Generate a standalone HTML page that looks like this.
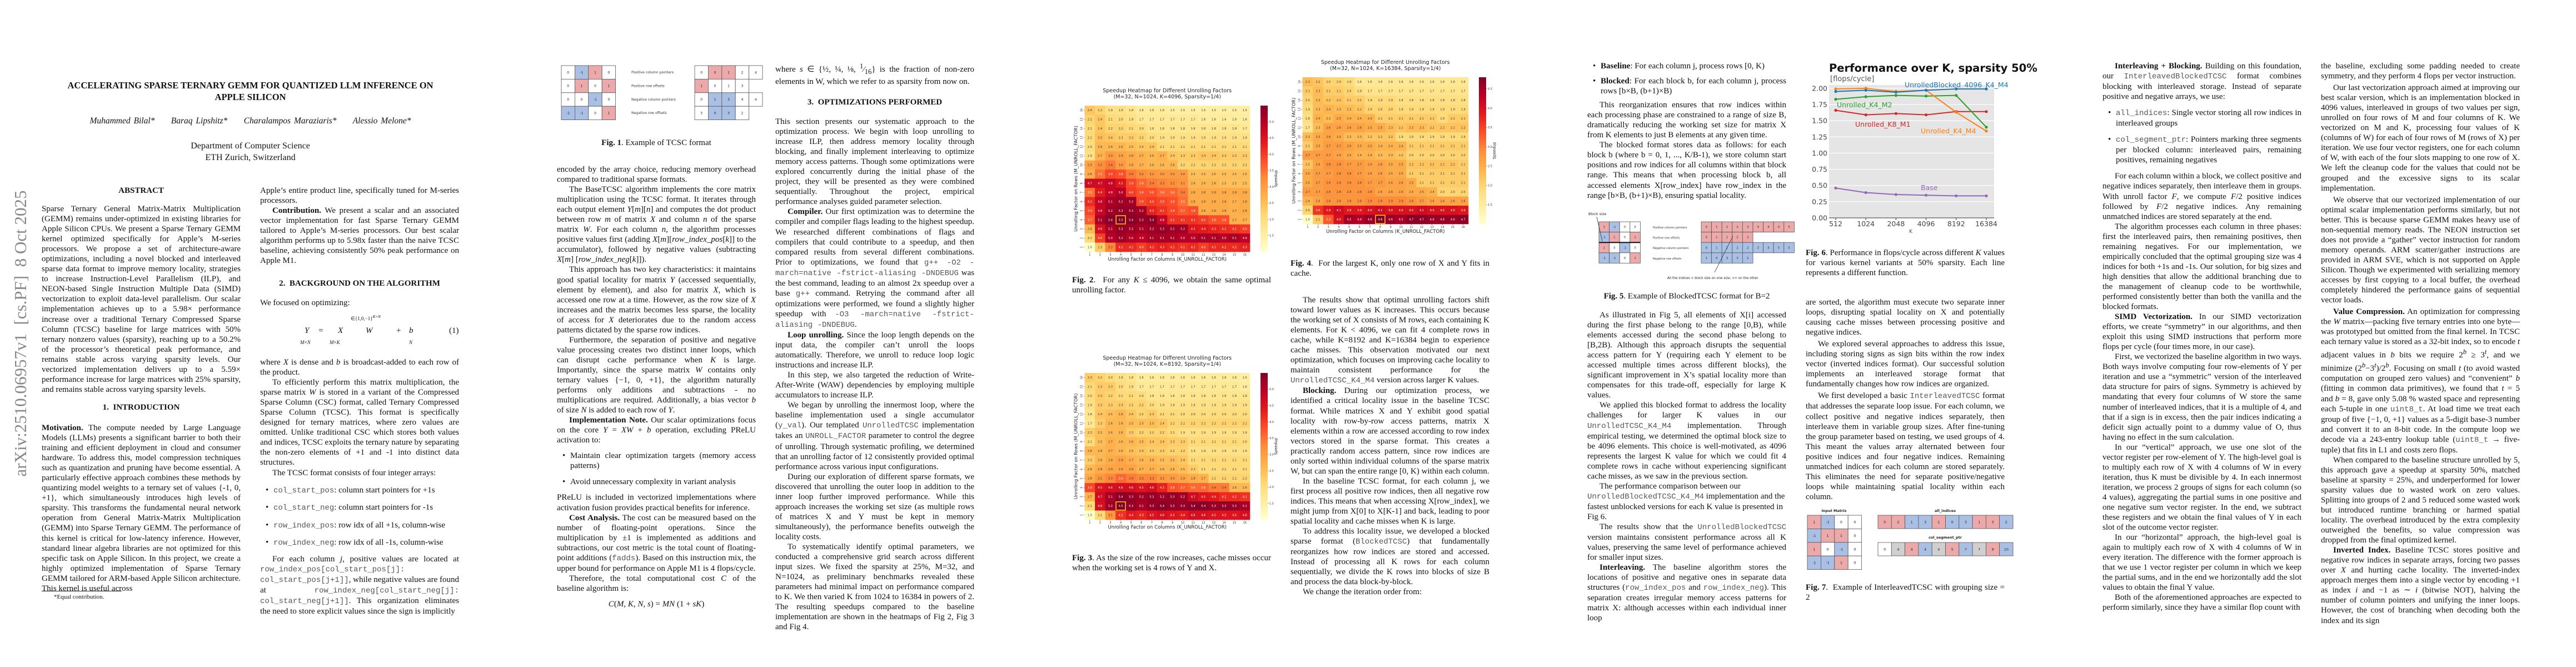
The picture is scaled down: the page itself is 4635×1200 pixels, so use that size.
<!DOCTYPE html>
<html><head><meta charset="utf-8">
<style>
html,body{margin:0;padding:0;background:#fff;}
body{width:4635px;height:1200px;position:relative;overflow:hidden;font-family:"Liberation Serif",serif;color:#111;}
.blk{position:absolute;width:358px;font-size:15px;line-height:18.05px;text-align:justify;hyphens:auto;}
.blk p{margin:0;text-indent:22px;}
.blk p.ni{text-indent:0;}
.blk h2{margin:0;font-size:15px;font-weight:bold;text-align:center;line-height:18px;}
.mono{font-family:"Liberation Mono",monospace;color:#555;font-size:14px;}
.blk ul{margin:0;padding:0;list-style:none;}
.blk li{position:relative;padding-left:24px;}
.blk li:before{content:"•";position:absolute;left:10px;}
.cap{position:absolute;width:358px;font-size:15px;line-height:18px;text-align:justify;}
.cap.c{text-align:center;}
i{font-style:italic;}
svg text{font-family:"DejaVu Sans",sans-serif;}
</style></head><body>

<!-- ================= PAGE 1 ================= -->
<div style="position:absolute;left:20px;top:600px;transform:translate(-50%,-50%) rotate(-90deg);transform-origin:center;left:37px;white-space:nowrap;font-size:31px;color:#888;font-family:'Liberation Serif',serif;">arXiv:2510.06957v1&nbsp; [cs.PF]&nbsp; 8 Oct 2025</div>

<div style="position:absolute;left:75px;width:751px;top:143px;text-align:center;font-weight:bold;font-size:16.5px;line-height:21px;">ACCELERATING SPARSE TERNARY GEMM FOR QUANTIZED LLM INFERENCE ON<br>APPLE SILICON</div>
<div style="position:absolute;left:75px;width:751px;top:209px;text-align:center;font-style:italic;font-size:15.5px;word-spacing:2px;">Muhammed Bilal*&nbsp;&nbsp;&nbsp;&nbsp; Baraq Lipshitz*&nbsp;&nbsp;&nbsp;&nbsp; Charalampos Maraziaris*&nbsp;&nbsp;&nbsp;&nbsp; Alessio Melone*</div>
<div style="position:absolute;left:75px;width:751px;top:252px;text-align:center;font-size:16px;line-height:21px;">Department of Computer Science<br>ETH Zurich, Switzerland</div>

<div class="blk" style="left:75px;top:334px;">
<h2>ABSTRACT</h2>
<p class="ni" style="margin-top:15px;">Sparse Ternary General Matrix-Matrix Multiplication (GEMM) remains under-optimized in existing libraries for Apple Silicon CPUs. We present a Sparse Ternary GEMM kernel optimized specifically for Apple’s M-series processors. We propose a set of architecture-aware optimizations, including a novel blocked and interleaved sparse data format to improve memory locality, strategies to increase Instruction-Level Parallelism (ILP), and NEON-based Single Instruction Multiple Data (SIMD) vectorization to exploit data-level parallelism. Our scalar implementation achieves up to a 5.98× performance increase over a traditional Ternary Compressed Sparse Column (TCSC) baseline for large matrices with 50% ternary nonzero values (sparsity), reaching up to a 50.2% of the processor’s theoretical peak performance, and remains stable across varying sparsity levels. Our vectorized implementation delivers up to a 5.59× performance increase for large matrices with 25% sparsity, and remains stable across varying sparsity levels.</p>
</div>
<div class="blk" style="left:75px;top:724px;">
<h2>1.&nbsp; INTRODUCTION</h2>
<p class="ni" style="margin-top:19px;"><b>Motivation.</b> The compute needed by Large Language Models (LLMs) presents a significant barrier to both their training and efficient deployment in cloud and consumer hardware. To address this, model compression techniques such as quantization and pruning have become essential. A particularly effective approach combines these methods by quantizing model weights to a ternary set of values {-1, 0, +1}, which simultaneously introduces high levels of sparsity. This transforms the fundamental neural network operation from General Matrix-Matrix Multiplication (GEMM) into Sparse Ternary GEMM. The performance of this kernel is critical for low-latency inference. However, standard linear algebra libraries are not optimized for this specific task on Apple Silicon. In this project, we create a highly optimized implementation of Sparse Ternary GEMM tailored for ARM-based Apple Silicon architecture. This kernel is useful across</p>
</div>
<div style="position:absolute;left:75px;top:1063px;width:144px;border-top:1px solid #333;"></div>
<div style="position:absolute;left:97px;top:1068px;font-size:11px;">*Equal contribution.</div>

<div class="blk" style="left:468px;top:334px;">
<p class="ni">Apple’s entire product line, specifically tuned for M-series processors.</p>
<p><b>Contribution.</b> We present a scalar and an associated vector implementation for fast Sparse Ternary GEMM tailored to Apple’s M-series processors. Our best scalar algorithm performs up to 5.98x faster than the naive TCSC baseline, achieving consistently 50% peak performance on Apple M1.</p>
</div>
<div class="blk" style="left:468px;top:501px;"><h2>2.&nbsp; BACKGROUND ON THE ALGORITHM</h2></div>
<div class="blk" style="left:468px;top:536px;"><p class="ni">We focused on optimizing:</p></div>
<div style="position:absolute;left:468px;top:565px;width:358px;height:75px;font-size:15px;">
<span style="position:absolute;left:163px;top:0;font-size:9px;">∈{1,0,−1}<sup><i>K</i>×<i>N</i></sup></span>
<span style="position:absolute;left:80px;top:22px;"><i>Y</i></span><span style="position:absolute;left:105px;top:22px;">=</span>
<span style="position:absolute;left:140px;top:22px;"><i>X</i></span>
<span style="position:absolute;left:190px;top:22px;"><i>W</i></span>
<span style="position:absolute;left:245px;top:22px;">+</span><span style="position:absolute;left:268px;top:22px;"><i>b</i></span>
<span style="position:absolute;left:340px;top:22px;">(1)</span>
<span style="position:absolute;left:72px;top:46px;font-size:9px;"><i>M</i>×<i>N</i></span>
<span style="position:absolute;left:125px;top:46px;font-size:9px;"><i>M</i>×<i>K</i></span>
<span style="position:absolute;left:268px;top:46px;font-size:9px;"><i>N</i></span>
</div>
<div class="blk" style="left:468px;top:643px;">
<p class="ni">where <i>X</i> is dense and <i>b</i> is broadcast-added to each row of the product.</p>
<p>To efficiently perform this matrix multiplication, the sparse matrix <i>W</i> is stored in a variant of the Compressed Sparse Column (CSC) format, called Ternary Compressed Sparse Column (TCSC). This format is specifically designed for ternary matrices, where zero values are omitted. Unlike traditional CSC which stores both values and indices, TCSC exploits the ternary nature by separating the non-zero elements of +1 and -1 into distinct data structures.</p>
<p>The TCSC format consists of four integer arrays:</p>
<ul style="margin-top:13px;">
<li style="margin-bottom:12.5px;"><span class="mono">col_start_pos</span>: column start pointers for +1s</li>
<li style="margin-bottom:12.5px;"><span class="mono">col_start_neg</span>: column start pointers for -1s</li>
<li style="margin-bottom:12.5px;"><span class="mono">row_index_pos</span>: row idx of all +1s, column-wise</li>
<li><span class="mono">row_index_neg</span>: row idx of all -1s, column-wise</li>
</ul>
<p style="margin-top:11px;">For each column <i>j</i>, positive values are located at <span class="mono">row_index_pos[col_start_pos[j]: col_start_pos[j+1]]</span>, while negative values are found at <span class="mono">row_index_neg[col_start_neg[j]: col_start_neg[j+1]]</span>. This organization eliminates the need to store explicit values since the sign is implicitly</p>
</div>

<!-- ================= PAGE 2 ================= -->
<div class="cap c" style="left:1002px;top:248px;"><b>Fig. 1</b>. Example of TCSC format</div>
<div class="blk" style="left:1002px;top:296px;">
<p class="ni">encoded by the array choice, reducing memory overhead compared to traditional sparse formats.</p>
<p>The BaseTCSC algorithm implements the core matrix multiplication using the TCSC format. It iterates through each output element <i>Y</i>[<i>m</i>][<i>n</i>] and computes the dot product between row <i>m</i> of matrix <i>X</i> and column <i>n</i> of the sparse matrix <i>W</i>. For each column <i>n</i>, the algorithm processes positive values first (adding <i>X</i>[<i>m</i>][<i>row_index_pos</i>[<i>k</i>]] to the accumulator), followed by negative values (subtracting <i>X</i>[<i>m</i>] [<i>row_index_neg</i>[<i>k</i>]]).</p>
<p>This approach has two key characteristics: it maintains good spatial locality for matrix <i>Y</i> (accessed sequentially, element by element), and also for matrix <i>X</i>, which is accessed one row at a time. However, as the row size of <i>X</i> increases and the matrix becomes less sparse, the locality of access for <i>X</i> deteriorates due to the random access patterns dictated by the sparse row indices.</p>
<p>Furthermore, the separation of positive and negative value processing creates two distinct inner loops, which can disrupt cache performance when <i>K</i> is large. Importantly, since the sparse matrix <i>W</i> contains only ternary values {−1, 0, +1}, the algorithm naturally performs only additions and subtractions - no multiplications are required. Additionally, a bias vector <i>b</i> of size <i>N</i> is added to each row of <i>Y</i>.</p>
<p><b>Implementation Note.</b> Our scalar optimizations focus on the core <i>Y</i> = <i>XW</i> + <i>b</i> operation, excluding PReLU activation to:</p>
<ul style="margin-top:10px;">
<li style="margin-bottom:11px;">Maintain clear optimization targets (memory access patterns)</li>
<li style="margin-bottom:10px;">Avoid unnecessary complexity in variant analysis</li>
</ul>
<p class="ni">PReLU is included in vectorized implementations where activation fusion provides practical benefits for inference.</p>
<p><b>Cost Analysis.</b> The cost can be measured based on the number of floating-point operations. Since the multiplication by ±1 is implemented as additions and subtractions, our cost metric is the total count of floating-point additions (<span class="mono">fadds</span>). Based on this instruction mix, the upper bound for performance on Apple M1 is 4 flops/cycle.</p>
<p>Therefore, the total computational cost <i>C</i> of the baseline algorithm is:</p>
<p class="ni" style="text-align:center;margin-top:10px;"><i>C</i>(<i>M, K, N, s</i>) = <i>MN</i> (1 + <i>sK</i>)</p>
</div>

<div class="blk" style="left:1395px;top:110px;">
<p class="ni">where <i>s</i> ∈ {½, ¼, ⅛, <sup>1</sup>⁄<sub>16</sub>} is the fraction of non-zero elements in W, which we refer to as sparsity from now on.</p>
</div>
<div class="blk" style="left:1395px;top:175px;"><h2>3.&nbsp; OPTIMIZATIONS PERFORMED</h2></div>
<div class="blk" style="left:1395px;top:210px;">
<p class="ni">This section presents our systematic approach to the optimization process. We begin with loop unrolling to increase ILP, then address memory locality through blocking, and finally implement interleaving to optimize memory access patterns. Though some optimizations were explored concurrently during the initial phase of the project, they will be presented as they were combined sequentially. Throughout the project, empirical performance analyses guided parameter selection.</p>
<p><b>Compiler.</b> Our first optimization was to determine the compiler and compiler flags leading to the highest speedup. We researched different combinations of flags and compilers that could contribute to a speedup, and then compared results from several different combinations. Prior to optimizations, we found that <span class="mono">g++ -O2 -march=native -fstrict-aliasing -DNDEBUG</span> was the best command, leading to an almost 2x speedup over a base <span class="mono">g++</span> command. Retrying the command after all optimizations were performed, we found a slightly higher speedup with <span class="mono">-O3 -march=native -fstrict-aliasing -DNDEBUG</span>.</p>
<p><b>Loop unrolling.</b> Since the loop length depends on the input data, the compiler can’t unroll the loops automatically. Therefore, we unroll to reduce loop logic instructions and increase ILP.</p>
<p>In this step, we also targeted the reduction of Write-After-Write (WAW) dependencies by employing multiple accumulators to increase ILP.</p>
<p>We began by unrolling the innermost loop, where the baseline implementation used a single accumulator (<span class="mono">y_val</span>). Our templated <span class="mono">UnrolledTCSC</span> implementation takes an <span class="mono">UNROLL_FACTOR</span> parameter to control the degree of unrolling. Through systematic profiling, we determined that an unrolling factor of 12 consistently provided optimal performance across various input configurations.</p>
<p>During our exploration of different sparse formats, we discovered that unrolling the outer loop in addition to the inner loop further improved performance. While this approach increases the working set size (as multiple rows of matrices X and Y must be kept in memory simultaneously), the performance benefits outweigh the locality costs.</p>
<p>To systematically identify optimal parameters, we conducted a comprehensive grid search across different input sizes. We fixed the sparsity at 25%, M=32, and N=1024, as preliminary benchmarks revealed these parameters had minimal impact on performance compared to K. We then varied K from 1024 to 16384 in powers of 2. The resulting speedups compared to the baseline implementation are shown in the heatmaps of Fig 2, Fig 3 and Fig 4.</p>
</div>

<!-- ================= PAGE 3 ================= -->
<div class="cap" style="left:1929px;top:495px;"><b>Fig. 2</b>.&nbsp; For any <i>K</i> ≤ 4096, we obtain the same optimal unrolling factor.</div>
<div class="cap" style="left:1929px;top:995px;"><b>Fig. 3</b>. As the size of the row increases, cache misses occur when the working set is 4 rows of Y and X.</div>
<div class="cap" style="left:2322px;top:465px;"><b>Fig. 4</b>.&nbsp; For the largest K, only one row of X and Y fits in cache.</div>
<div class="blk" style="left:2322px;top:531px;">
<p>The results show that optimal unrolling factors shift toward lower values as K increases. This occurs because the working set of X consists of M rows, each containing K elements. For K &lt; 4096, we can fit 4 complete rows in cache, while K=8192 and K=16384 begin to experience cache misses. This observation motivated our next optimization, which focuses on improving cache locality to maintain consistent performance for the <span class="mono">UnrolledTCSC_K4_M4</span> version across larger K values.</p>
<p><b>Blocking.</b> During our optimization process, we identified a critical locality issue in the baseline TCSC format. While matrices X and Y exhibit good spatial locality with row-by-row access patterns, matrix X elements within a row are accessed according to row index vectors stored in the sparse format. This creates a practically random access pattern, since row indices are only sorted within individual columns of the sparse matrix W, but can span the entire range [0, K) within each column.</p>
<p>In the baseline TCSC format, for each column j, we first process all positive row indices, then all negative row indices. This means that when accessing X[row_index], we might jump from X[0] to X[K-1] and back, leading to poor spatial locality and cache misses when K is large.</p>
<p>To address this locality issue, we developed a blocked sparse format (<span class="mono">BlockedTCSC</span>) that fundamentally reorganizes how row indices are stored and accessed. Instead of processing all K rows for each column sequentially, we divide the K rows into blocks of size B and process the data block-by-block.</p>
<p>We change the iteration order from:</p>
</div>

<!-- ================= PAGE 4 ================= -->
<div class="blk" style="left:2856px;top:110px;">
<ul>
<li style="margin-bottom:9px;"><b>Baseline</b>: For each column j, process rows [0, K)</li>
<li style="margin-bottom:7px;"><b>Blocked</b>: For each block b, for each column j, process rows [b×B, (b+1)×B)</li>
</ul>
<p>This reorganization ensures that row indices within each processing phase are constrained to a range of size B, dramatically reducing the working set size for matrix X from K elements to just B elements at any given time.</p>
<p>The blocked format stores data as follows: for each block b (where b = 0, 1, ..., K/B-1), we store column start positions and row indices for all columns within that block range. This means that when processing block b, all accessed elements X[row_index] have row_index in the range [b×B, (b+1)×B), ensuring spatial locality.</p>
</div>
<div class="cap c" style="left:2856px;top:524px;"><b>Fig. 5</b>. Example of BlockedTCSC format for B=2</div>
<div class="blk" style="left:2856px;top:558px;">
<p>As illustrated in Fig 5, all elements of X[i] accessed during the first phase belong to the range [0,B), while elements accessed during the second phase belong to [B,2B). Although this approach disrupts the sequential access pattern for Y (requiring each Y element to be accessed multiple times across different blocks), the significant improvement in X’s spatial locality more than compensates for this trade-off, especially for large K values.</p>
<p>We applied this blocked format to address the locality challenges for larger K values in our <span class="mono">UnrolledTCSC_K4_M4</span> implementation. Through empirical testing, we determined the optimal block size to be 4096 elements. This choice is well-motivated, as 4096 represents the largest K value for which we could fit 4 complete rows in cache without experiencing significant cache misses, as we saw in the previous section.</p>
<p style="text-align:left;">The performance comparison between our <span class="mono">UnrolledBlockedTCSC_K4_M4</span> implementation and the fastest unblocked versions for each K value is presented in Fig 6.</p>
<p>The results show that the <span class="mono">UnrolledBlockedTCSC</span> version maintains consistent performance across all K values, preserving the same level of performance achieved for smaller input sizes.</p>
<p><b>Interleaving.</b> The baseline algorithm stores the locations of positive and negative ones in separate data structures (<span class="mono">row_index_pos</span> and <span class="mono">row_index_neg</span>). This separation creates irregular memory access patterns for matrix X: although accesses within each individual inner loop</p>
</div>
<div class="cap" style="left:3249px;top:446px;"><b>Fig. 6</b>. Performance in flops/cycle across different <i>K</i> values for various kernel variants at 50% sparsity. Each line represents a different function.</div>
<div class="blk" style="left:3249px;top:535px;">
<p class="ni">are sorted, the algorithm must execute two separate inner loops, disrupting spatial locality on X and potentially causing cache misses between processing positive and negative indices.</p>
<p style="margin-top:3px;">We explored several approaches to address this issue, including storing signs as sign bits within the row index vector (inverted indices format). Our successful solution implements an interleaved storage format that fundamentally changes how row indices are organized.</p>
<p style="margin-top:3px;">We first developed a basic <span class="mono">InterleavedTCSC</span> format that addresses the separate loop issue. For each column, we collect positive and negative indices separately, then interleave them in variable group sizes. After fine-tuning the group parameter based on testing, we used groups of 4. This meant the values array alternated between four positive indices and four negative indices. Remaining unmatched indices for each column are stored separately. This eliminates the need for separate positive/negative loops while maintaining spatial locality within each column.</p>
</div>
<div class="cap" style="left:3249px;top:1048px;"><b>Fig. 7</b>.&nbsp; Example of InterleavedTCSC with grouping size = 2</div>

<!-- ================= PAGE 5 ================= -->
<div class="blk" style="left:3783px;top:110px;">
<p><b>Interleaving + Blocking.</b> Building on this foundation, our <span class="mono">InterleavedBlockedTCSC</span> format combines blocking with interleaved storage. Instead of separate positive and negative arrays, we use:</p>
<ul style="margin-top:11px;">
<li style="margin-bottom:11px;"><span class="mono">all_indices</span>: Single vector storing all row indices in interleaved groups</li>
<li style="margin-bottom:11px;"><span class="mono">col_segment_ptr</span>: Pointers marking three segments per blocked column: interleaved pairs, remaining positives, remaining negatives</li>
</ul>
<p>For each column within a block, we collect positive and negative indices separately, then interleave them in groups. With unroll factor <i>F</i>, we compute <i>F</i>/2 positive indices followed by <i>F</i>/2 negative indices. Any remaining unmatched indices are stored separately at the end.</p>
<p>The algorithm processes each column in three phases: first the interleaved pairs, then remaining positives, then remaining negatives. For our implementation, we empirically concluded that the optimal grouping size was 4 indices for both +1s and -1s. Our solution, for big sizes and high densities that allow the additional branching due to the management of cleanup code to be worthwhile, performed consistently better than both the vanilla and the blocked formats.</p>
<p><b>SIMD Vectorization.</b> In our SIMD vectorization efforts, we create “symmetry” in our algorithms, and then exploit this using SIMD instructions that perform more flops per cycle (four times more, in our case).</p>
<p>First, we vectorized the baseline algorithm in two ways. Both ways involve computing four row-elements of Y per iteration and use a “symmetric” version of the interleaved data structure for pairs of signs. Symmetry is achieved by mandating that every four columns of W store the same number of interleaved indices, that it is a multiple of 4, and that if a sign is in excess, then the pair indices indicating a deficit sign actually point to a dummy value of O, thus having no effect in the sum calculation.</p>
<p>In our “vertical” approach, we use one slot of the vector register per row-element of Y. The high-level goal is to multiply each row of X with 4 columns of W in every iteration, thus K must be divisible by 4. In each innermost iteration, we process 2 groups of signs for each column (so 4 values), aggregating the partial sums in one positive and one negative sum vector register. In the end, we subtract these registers and we obtain the final values of Y in each slot of the outcome vector register.</p>
<p>In our “horizontal” approach, the high-level goal is again to multiply each row of X with 4 columns of W in every iteration. The difference with the former approach is that we use 1 vector register per column in which we keep the partial sums, and in the end we horizontally add the slot values to obtain the final Y value.</p>
<p>Both of the aforementioned approaches are expected to perform similarly, since they have a similar flop count with</p>
</div>
<div class="blk" style="left:4176px;top:110px;">
<p class="ni">the baseline, excluding some padding needed to create symmetry, and they perform 4 flops per vector instruction.</p>
<p style="margin-top:3px;">Our last vectorization approach aimed at improving our best scalar version, which is an implementation blocked in 4096 values, interleaved in groups of two values per sign, unrolled on four rows of M and four columns of K. We vectorized on M and K, processing four values of K (columns of W) for each of four rows of M (rows of X) per iteration. We use four vector registers, one for each column of W, with each of the four slots mapping to one row of X. We left the cleanup code for the values that could not be grouped and the excessive signs to its scalar implementation.</p>
<p style="margin-top:3px;">We observe that our vectorized implementation of our optimal scalar implementation performs similarly, but not better. This is because sparse GEMM makes heavy use of non-sequential memory reads. The NEON instruction set does not provide a “gather” vector instruction for random memory operands. ARM scatter/gather instructions are provided in ARM SVE, which is not supported on Apple Silicon. Though we experimented with serializing memory accesses by first copying to a local buffer, the overhead completely hindered the performance gains of sequential vector loads.</p>
<p style="margin-top:3px;"><b>Value Compression.</b> An optimization for compressing the <i>W</i> matrix—packing five ternary entries into one byte—was prototyped but omitted from the final kernel. In TCSC each ternary value is stored as a 32-bit index, so to encode <i>t</i> adjacent values in <i>b</i> bits we require 2<sup><i>b</i></sup> ≥ 3<sup><i>t</i></sup>, and we minimize (2<sup><i>b</i></sup>−3<sup><i>t</i></sup>)/2<sup><i>b</i></sup>. Focusing on small <i>t</i> (to avoid wasted computation on grouped zero values) and “convenient” <i>b</i> (fitting in common data primitives), we found that <i>t</i> = 5 and <i>b</i> = 8, gave only 5.08 % wasted space and representing each 5-tuple in one <span class="mono">uint8_t</span>. At load time we treat each group of five {−1, 0, +1} values as a 5-digit base-3 number and convert it to an 8-bit code. In the compute loop we decode via a 243-entry lookup table (<span class="mono">uint8_t</span> → five-tuple) that fits in L1 and costs zero flops.</p>
<p>When compared to the baseline structure unrolled by 5, this approach gave a speedup at sparsity 50%, matched baseline at sparsity = 25%, and underperformed for lower sparsity values due to wasted work on zero values. Splitting into groups of 2 and 5 reduced some wasted work but introduced runtime branching or harmed spatial locality. The overhead introduced by the extra complexity outweighed the benefits, so value compression was dropped from the final optimized kernel.</p>
<p><b>Inverted Index.</b> Baseline TCSC stores positive and negative row indices in separate arrays, forcing two passes over <i>X</i> and hurting cache locality. The inverted-index approach merges them into a single vector by encoding +1 as index <i>i</i> and −1 as ∼ <i>i</i> (bitwise NOT), halving the number of column pointers and unifying the inner loops. However, the cost of branching when decoding both the index and its sign</p>
</div>

<svg id="figs" width="4635" height="1200" style="position:absolute;left:0;top:0;" xmlns="http://www.w3.org/2000/svg"></svg>

<script>
// ---------- Heatmap data (rows top = M_UNROLL 16 ... bottom = 1) ----------
const unrollLabels = [1,2,3,4,5,6,7,8,9,10,11,12,13,14,15,16];
const fig2Values = [
[2.4,2.2,1.9,1.9,1.8,1.6,1.6,1.6,1.5,1.5,1.5,1.5,1.5,1.5,1.5,1.5],
[2.2,2.4,2.1,2.0,1.9,1.7,1.7,1.7,1.7,1.7,1.7,1.6,1.6,1.6,1.6,1.6],
[2.1,2.4,2.2,2.2,2.1,2.0,1.8,1.8,1.8,1.8,1.8,1.8,1.8,1.8,1.8,1.7],
[2.1,2.5,2.4,2.3,2.3,2.2,2.0,1.9,1.9,1.9,1.9,1.9,1.9,1.9,1.9,1.9],
[2.0,2.6,2.6,2.6,2.5,2.4,2.4,2.1,2.1,2.1,2.1,2.1,2.1,2.1,2.1,2.1],
[1.9,2.7,3.0,2.9,2.8,2.7,2.6,2.7,2.4,2.3,2.3,2.4,2.4,2.3,2.3,2.3],
[2.9,3.2,3.4,3.0,2.8,2.7,2.6,2.6,2.6,2.2,2.2,2.2,2.2,2.2,2.2,2.2],
[2.8,3.5,3.9,3.8,3.4,3.2,3.1,3.0,3.0,3.0,2.5,2.5,2.5,2.5,2.5,2.5],
[4.7,4.7,4.8,4.5,3.9,3.6,3.4,3.3,3.2,3.1,2.6,2.6,2.6,2.5,2.5,2.5],
[3.5,4.4,4.8,5.0,4.0,3.8,3.8,3.6,3.6,3.4,2.8,2.8,2.8,2.8,2.8,2.8],
[4.2,4.8,5.1,5.2,5.2,3.9,4.0,3.9,3.8,3.5,2.8,2.8,2.8,2.8,2.7,2.8],
[3.9,4.8,5.2,5.3,5.3,5.2,4.3,4.1,3.9,3.7,3.8,2.8,2.8,2.8,2.7,2.8],
[3.7,5.1,5.4,5.5,5.4,5.3,5.4,4.8,4.1,4.1,4.1,4.0,3.8,3.8,2.7,2.7],
[2.6,4.6,5.1,5.3,5.2,5.1,5.2,5.3,5.2,5.2,4.5,4.4,4.3,4.2,4.1,4.0],
[2.1,4.0,5.0,5.2,5.0,4.9,5.1,5.1,5.1,5.0,5.0,5.1,5.1,5.0,5.1,4.9],
[1.0,2.3,3.3,4.2,4.2,4.0,4.2,4.3,4.2,4.1,4.2,4.0,4.2,4.2,4.2,4.3]];
const fig3Values = [
[2.3,2.2,2.0,1.9,1.8,1.6,1.6,1.6,1.6,1.6,1.6,1.6,1.6,1.6,1.6,1.5],
[2.1,2.3,2.3,2.0,1.9,1.7,1.7,1.7,1.7,1.7,1.7,1.7,1.7,1.7,1.7,1.6],
[2.0,2.3,2.2,2.1,2.1,2.0,1.8,1.8,1.8,1.8,1.8,1.8,1.8,1.8,1.8,1.8],
[1.9,2.3,2.3,2.3,2.2,2.2,2.0,1.9,1.9,1.9,1.9,1.9,1.9,1.9,1.9,1.9],
[1.8,2.4,2.5,2.6,2.4,2.2,2.3,2.1,2.1,2.0,2.0,2.0,2.0,2.0,2.0,2.0],
[1.7,2.3,2.6,2.6,2.5,2.5,2.5,2.4,2.2,2.2,2.2,2.2,2.2,2.2,2.2,2.2],
[2.3,2.5,2.6,2.6,2.3,2.2,2.2,2.2,2.1,1.9,1.9,1.9,1.9,1.9,1.9,1.9],
[2.1,2.5,2.7,2.6,2.6,2.5,2.4,2.4,2.3,2.3,2.1,2.1,2.1,2.1,2.1,2.0],
[2.6,2.6,2.7,2.6,2.5,2.4,2.3,2.3,2.2,2.2,1.9,1.9,1.9,1.9,1.9,1.9],
[2.3,2.6,2.8,2.9,2.7,2.6,2.6,2.5,2.5,2.4,2.1,2.1,2.1,2.1,2.1,2.1],
[2.6,2.8,2.9,2.9,2.9,2.7,2.7,2.6,2.6,2.5,2.3,2.1,2.1,2.1,2.1,2.1],
[2.8,3.1,3.3,3.6,3.4,3.3,3.3,3.1,3.0,2.9,2.8,2.7,2.2,2.2,2.2,2.2],
[3.9,4.5,4.6,4.6,4.6,4.5,4.6,4.3,3.8,3.7,3.6,3.6,3.4,3.4,2.6,2.6],
[2.7,4.7,5.1,5.4,5.3,5.2,5.3,5.2,5.3,5.2,4.7,4.5,4.4,4.2,4.2,4.1],
[2.1,4.6,5.2,5.5,5.3,5.1,5.3,5.4,5.3,5.3,5.4,5.4,5.3,5.3,5.3,5.1],
[1.0,2.1,3.1,4.1,4.4,4.3,4.5,4.6,4.5,4.4,4.6,4.6,4.5,4.5,4.5,4.6]];
const fig4Values = [
[2.3,2.2,2.0,2.0,1.9,1.6,1.6,1.6,1.6,1.6,1.6,1.6,1.6,1.6,1.6,1.6],
[2.1,2.3,2.1,2.1,2.0,1.8,1.7,1.7,1.7,1.7,1.7,1.7,1.7,1.7,1.7,1.7],
[2.0,2.3,2.2,2.2,2.1,2.1,1.9,1.9,1.9,1.8,1.8,1.8,1.8,1.8,1.8,1.8],
[1.9,2.3,2.4,2.3,2.3,2.2,2.0,2.0,2.0,1.9,1.9,1.9,1.9,1.9,1.9,1.9],
[1.8,2.4,2.3,2.5,2.4,2.4,2.4,2.1,2.1,2.1,2.1,2.1,2.1,1.9,2.1,2.1],
[1.7,2.3,2.6,2.6,2.6,2.6,2.5,2.5,2.3,2.2,2.3,2.3,2.2,2.2,2.2,2.2],
[2.3,2.5,2.6,2.5,2.3,2.3,2.2,2.2,2.2,1.9,1.9,1.9,1.9,1.9,1.9,1.9],
[2.1,2.5,2.7,2.7,2.6,2.5,2.5,2.4,2.4,2.4,2.1,2.1,2.1,2.1,2.1,2.1],
[2.7,2.7,2.7,2.6,2.5,2.4,2.4,2.3,2.3,2.2,2.0,2.0,2.0,2.0,2.0,2.0],
[2.2,2.6,2.8,2.8,2.7,2.7,2.6,2.6,2.5,2.5,2.2,2.2,2.2,2.2,2.2,2.1],
[2.5,2.7,2.7,2.8,2.8,2.7,2.6,2.6,2.5,2.5,2.1,2.1,2.1,2.1,2.1,2.1],
[2.5,2.7,2.8,2.8,2.8,2.8,2.7,2.7,2.6,2.6,2.5,2.1,2.1,2.1,2.1,2.1],
[2.7,2.7,2.8,2.8,2.8,2.8,2.8,2.6,2.6,2.6,2.5,2.5,2.4,2.0,2.0,2.0],
[2.4,2.6,2.8,2.8,2.8,2.8,2.9,2.9,2.9,2.9,2.8,2.7,2.6,2.6,2.6,2.6],
[2.0,3.6,3.9,4.1,3.9,3.9,4.0,4.1,4.0,4.0,4.0,4.1,4.0,4.0,4.0,3.9],
[1.0,2.1,3.3,4.0,4.5,4.4,4.6,4.8,4.6,4.5,4.7,4.7,4.6,4.6,4.6,4.7]];
const fig2ColorbarTicks = [1.5,2.0,2.5,3.0,3.5,4.0,4.5,5.0];
const fig3ColorbarTicks = [1.5,2.0,2.5,3.0,3.5,4.0,4.5,5.0];
const fig4ColorbarTicks = [1.5,2.0,2.5,3.0,3.5,4.0,4.5];

// ---------- Line chart data (Fig 6) ----------
const kLabels = ['512','1024','2048','4096','8192','16384'];
const seriesUnrolledBlocked = [1.95,1.97,1.94,1.97,1.99,1.99];
const seriesUnrolledK4M4 = [1.99,2.00,1.95,1.97,1.63,1.34];
const seriesUnrolledK4M2 = [1.83,1.87,1.89,1.88,1.89,1.40];
const seriesUnrolledK8M1 = [1.66,1.59,1.61,1.59,1.64,1.64];
const seriesBase = [0.46,0.39,0.36,0.35,0.34,0.34];
const perfYTicks = [0,0.25,0.5,0.75,1.0,1.25,1.5,1.75,2.0];

const NS='http://www.w3.org/2000/svg';
const svg=document.getElementById('figs');
function mk(tag,attrs,parent,txt){const e=document.createElementNS(NS,tag);for(const k in attrs)e.setAttribute(k,attrs[k]);if(txt!==undefined)e.textContent=txt;(parent||svg).appendChild(e);return e;}

const cmapStops=[[255,255,204],[255,237,160],[254,217,118],[254,178,76],[253,141,60],[252,78,42],[227,26,28],[189,0,38],[128,0,38]];
function cmap(t){t=Math.max(0,Math.min(1,t));const f=t*(cmapStops.length-1);const i=Math.min(Math.floor(f),cmapStops.length-2);const r=f-i;const a=cmapStops[i],b=cmapStops[i+1];return 'rgb('+a.map((v,j)=>Math.round(v+(b[j]-v)*r)).join(',')+')';}
let gradId=0;

function heatmap(values,ticks,gx,gy,gw,gh,kval,name){
  const g=mk('g',{});
  
  
  const nR=values.length,nC=values[0].length;
  const flat=values.flat();const vmin=Math.min(...flat),vmax=Math.max(...flat);
  const cw=gw/nC,ch=gh/nR;
  const xS=c=>gx+c*cw, yS=r=>gy+r*ch, cS=v=>(v-vmin)/(vmax-vmin);
  let best=[0,0];values.forEach((row,r)=>row.forEach((v,c)=>{if(v>values[best[0]][best[1]])best=[r,c];}));
  const cx=(gx+gw/2);
  const t1=mk('text',{x:cx,y:gy-24,'text-anchor':'middle','font-size':'9.5','font-family':'DejaVu Sans Mono,monospace',fill:'#222'},g,'Speedup Heatmap for Different Unrolling Factors');
  
  mk('text',{x:cx,y:gy-13,'text-anchor':'middle','font-size':'9.5','font-family':'DejaVu Sans Mono,monospace',fill:'#222'},g,'(M=32, N=1024, K='+kval+', Sparsity=1/4)');
  values.forEach((row,r)=>row.forEach((v,c)=>{
    const rc=mk('rect',{x:xS(c),y:yS(r),width:cw+0.3,height:ch+0.3,fill:cmap(cS(v))},g);
    
    
    mk('text',{x:xS(c)+cw/2,y:yS(r)+ch/2+1.8,'text-anchor':'middle','font-size':'5',fill:cS(v)>0.55?'#fff':'#333'},g,v.toFixed(1));
  }));
  const hl=mk('rect',{x:xS(best[1])+0.8,y:yS(best[0])+0.8,width:cw-1.6,height:ch-1.6,fill:'none',stroke:'#f2c200','stroke-width':'1.6'},g);
  
  // x ticks
  unrollLabels.forEach((lab,c)=>{mk('line',{x1:xS(c)+cw/2,x2:xS(c)+cw/2,y1:gy+gh,y2:gy+gh+2,stroke:'#333','stroke-width':0.5},g);
    mk('text',{x:xS(c)+cw/2,y:gy+gh+7,'text-anchor':'middle','font-size':'5',fill:'#333'},g,lab);});
  unrollLabels.slice().reverse().forEach((lab,r)=>{mk('line',{x1:gx-2,x2:gx,y1:yS(r)+ch/2,y2:yS(r)+ch/2,stroke:'#333','stroke-width':0.5},g);
    mk('text',{x:gx-4,y:yS(r)+ch/2,'text-anchor':'middle','font-size':'5',fill:'#333',transform:'rotate(-90 '+(gx-4)+' '+(yS(r)+ch/2)+')'},g,lab);});
  const xl=mk('text',{x:cx,y:gy+gh+16,'text-anchor':'middle','font-size':'8.6','font-family':'DejaVu Sans Mono,monospace',fill:'#222'},g,'Unrolling Factor on Columns (K_UNROLL_FACTOR)');
  
  const yx=gx-13,yy=gy+gh/2;
  const yl=mk('text',{x:yx,y:yy,'text-anchor':'middle','font-size':'8.2','font-family':'DejaVu Sans Mono,monospace',fill:'#222',transform:'rotate(-90 '+yx+' '+yy+')'},g,'Unrolling Factor on Rows (M_UNROLL_FACTOR)');
  
  // colorbar
  const bx=gx+gw+19,bw=13;
  const id='cb'+(gradId++);
  const defs=mk('defs',{},g);const lg=mk('linearGradient',{id:id,x1:0,y1:1,x2:0,y2:0},defs);
  for(let i=0;i<=8;i++)mk('stop',{offset:(i/8),'stop-color':cmap(i/8)},lg);
  const cb=mk('rect',{x:bx,y:gy,width:bw,height:gh,fill:'url(#'+id+')'},g);
  
  ticks.forEach(t=>{const y=gy+gh-cS(t)*gh;mk('line',{x1:bx+bw,x2:bx+bw+2,y1:y,y2:y,stroke:'#333','stroke-width':0.5},g);
    mk('text',{x:bx+bw+3,y:y+1.8,'font-size':'5',fill:'#333'},g,t.toFixed(1));});
  const sx=bx+bw+17;
  mk('text',{x:sx,y:yy,'text-anchor':'middle','font-size':'7',fill:'#222',transform:'rotate(-90 '+sx+' '+yy+')'},g,'Speedup');
}
heatmap(fig2Values,fig2ColorbarTicks,1951.5,190,297.5,263,'4096','fig2-heatmap');
heatmap(fig3Values,fig3ColorbarTicks,1951.5,671,297.5,264,'8192','fig3-heatmap');
heatmap(fig4Values,fig4ColorbarTicks,2343.5,139,298.5,264,'16384','fig4-heatmap');

// ---------- cell-array figures ----------
const RED='#eba9a9',BLUE='#a9c0e4',GRAY='#cfcfcf';
function cells(g,x,y,w,h,vals,cols,fs){vals.forEach((v,i)=>{const c=mk('rect',{x:x+i*w,y:y,width:w,height:h,fill:cols[i]||'#fff',stroke:'#555','stroke-width':0.8},g);
  
  mk('text',{x:x+i*w+w/2,y:y+h/2+fs*0.35,'text-anchor':'middle','font-size':fs,fill:'#222'},g,v);});}
const R='r',B='b',W='',G='g';const cm={r:RED,b:BLUE,g:GRAY,'':'#fff'};
const m=a=>a.map(s=>cm[s]);

// Fig 1
const fig1=mk('g',{});
const f1m=[[['0',W],['-1',B],['1',R],['0',W]],[['0',W],['1',R],['0',W],['1',R]],[['0',W],['0',W],['-1',B],['0',W]],[['-1',B],['-1',B],['0',W],['1',R]]];
f1m.forEach((row,r)=>cells(fig1,1010,118+r*24.4,24.4,24.4,row.map(c=>c[0]),row.map(c=>cm[c[1]]),6));
['Positive column pointers','Positive row offsets','Negative column pointers','Negative row offsets'].forEach((t,r)=>mk('text',{x:1136,y:118+r*24.4+14,'font-size':'6.2',fill:'#333'},fig1,t));
cells(fig1,1250,118,24.4,24.4,['0','0','1','2','4'],m([W,R,R,W,W]),6);
cells(fig1,1250,142.4,24.4,24.4,['1','0','1','3'],m([R,W,W,W]),6);
cells(fig1,1250,166.8,24.4,24.4,['0','1','3','4','4'],m([W,B,B,W,W]),6);
cells(fig1,1250,191.2,24.4,24.4,['3','0','3','2'],m([W,B,B,W]),6);

// Fig 5
const fig5=mk('g',{});
const f5m=[[['1',R],['-1',B],['0',W],['0',W]],[['-1',B],['1',R],['0',W],['1',R]],[['1',R],['0',W],['-1',B],['0',W]],[['-1',B],['-1',B],['0',W],['1',R]]];
f5m.forEach((row,r)=>cells(fig5,2877,399+r*18.6,18.6,18.6,row.map(c=>c[0]),row.map(c=>cm[c[1]]),5));
mk('line',{x1:2877,x2:2951.4,y1:436.2,y2:436.2,stroke:'#111','stroke-width':2},fig5);
mk('text',{x:2858,y:387,'font-size':'6.5',fill:'#222'},fig5,'Block size');
mk('line',{x1:2873,y1:390,x2:2883,y2:434,stroke:'#234','stroke-width':0.8},fig5);
['Positive column pointers','Positive row offsets','Negative column pointers','Negative row offsets'].forEach((t,r)=>mk('text',{x:2974,y:399+r*18.6+12,'font-size':'5',fill:'#333'},fig5,t));
cells(fig5,3061,399,18.6,18.6,['0','1','2','2','3','4','4','4','5'],m([R,R,R,R,R,R,R,R,R]),5);
cells(fig5,3061,417.6,18.6,18.6,['0','1','1','2','3'],m([R,R,R,R,R]),5);
cells(fig5,3061,436.2,18.6,18.6,['0','1','2','2','2','3','4','5','5'],m([B,B,B,B,B,B,B,B,B]),5);
cells(fig5,3061,454.8,18.6,18.6,['1','0','3','3','2'],m([B,B,B,B,B]),5);
mk('line',{x1:3085,y1:490,x2:3118,y2:425,stroke:'#234','stroke-width':0.8},fig5);
mk('text',{x:3000,y:502,'font-size':'5.8',fill:'#222'},fig5,'All the indices < block size on one size, >= on the other');

// Fig 7
const fig7=mk('g',{});
mk('text',{x:3300,y:921,'text-anchor':'middle','font-size':'6.5','font-weight':'bold',fill:'#222'},fig7,'Input Matrix');
const f7m=[[['1',R],['-1',B],['0',W],['0',W]],[['-1',B],['1',R],['1',R],['0',W]],[['1',R],['0',W],['-1',B],['0',W]],[['-1',B],['-1',B],['1',R],['0',W]]];
f7m.forEach((row,r)=>cells(fig7,3252,927+r*24.4,24.4,24.4,row.map(c=>c[0]),row.map(c=>cm[c[1]]),6.5));
mk('text',{x:3500,y:921,'text-anchor':'middle','font-size':'6.5','font-weight':'bold',fill:'#222'},fig7,'all_indices');
cells(fig7,3379,927,24.3,24,['0','2','1','3','1','0','3','1','3','2'],m([R,R,B,B,R,B,B,R,R,B]),6.5);
mk('text',{x:3500,y:969,'text-anchor':'middle','font-size':'6.5','font-weight':'bold',fill:'#222'},fig7,'col_segment_ptr');
cells(fig7,3379,976,24.3,24,['0','4','4','4','4','5','7','7','9','10'],m([W,G,R,B,G,R,B,G,R,B]),6.5);

// ---------- Fig 6 line chart ----------
const f6=mk('g',{});
const px0=3291,px1=3588,py0=153,py1=392,yMax=2.05;
const xPos=i=>3303+i*(3574-3303)/(kLabels.length-1);
const yPos=v=>py1-(v/yMax)*(py1-py0);
const ttl=mk('text',{x:3291,y:129,'font-size':'19.5','font-weight':'bold',fill:'#111'},f6,'Performance over K, sparsity 50%');

mk('text',{x:3293,y:146,'font-size':'13','font-family':'DejaVu Sans Mono,monospace',fill:'#555'},f6,'[flops/cycle]');
mk('rect',{x:px0,y:py0,width:px1-px0,height:py1-py0,fill:'#e5e5e5'},f6);
perfYTicks.forEach(t=>{const y=yPos(t);mk('line',{x1:px0,x2:px1,y1:y,y2:y,stroke:'#fff','stroke-width':1.2},f6);
  mk('text',{x:px0-3,y:y+4.5,'text-anchor':'end','font-size':'12.5','font-family':'DejaVu Sans Mono,monospace',fill:'#444'},f6,t.toFixed(2));});
mk('line',{x1:px0,x2:px1,y1:py1,y2:py1,stroke:'#333','stroke-width':1},f6);
kLabels.forEach((k,i)=>{mk('line',{x1:xPos(i),x2:xPos(i),y1:py1,y2:py1+4,stroke:'#333','stroke-width':1},f6);
  mk('text',{x:xPos(i),y:py1+15,'text-anchor':'middle','font-size':'12.5','font-family':'DejaVu Sans Mono,monospace',fill:'#444'},f6,k);});
mk('text',{x:3438,y:419,'text-anchor':'middle','font-size':'9','font-family':'DejaVu Sans Mono,monospace',fill:'#444'},f6,'K');
function series(vals,color,name,label,lx,ly){
  const pts=vals.map((v,i)=>xPos(i)+','+yPos(v)).join(' ');
  const pl=mk('polyline',{points:pts,fill:'none',stroke:color,'stroke-width':2},f6);
  
  
  vals.forEach((v,i)=>{const c=mk('circle',{cx:xPos(i),cy:yPos(v),r:2.6,fill:color},f6);
    
    });
  const t=mk('text',{x:lx,y:ly,'font-size':'12.5',fill:color},f6,label);
  
  
}
series(seriesUnrolledK8M1,'#d62728','line-unrolled-k8-m1','Unrolled_K8_M1',3338,228);
series(seriesUnrolledK4M2,'#2ca02c','line-unrolled-k4-m2','Unrolled_K4_M2',3305,193);
series(seriesUnrolledK4M4,'#ff7f0e','line-unrolled-k4-m4','Unrolled_K4_M4',3456,240);
series(seriesUnrolledBlocked,'#1f77b4','line-unrolled-blocked','UnrolledBlocked_4096_K4_M4',3427,157);
series(seriesBase,'#9467bd','line-base','Base',3456,342);
</script>
</body></html>
